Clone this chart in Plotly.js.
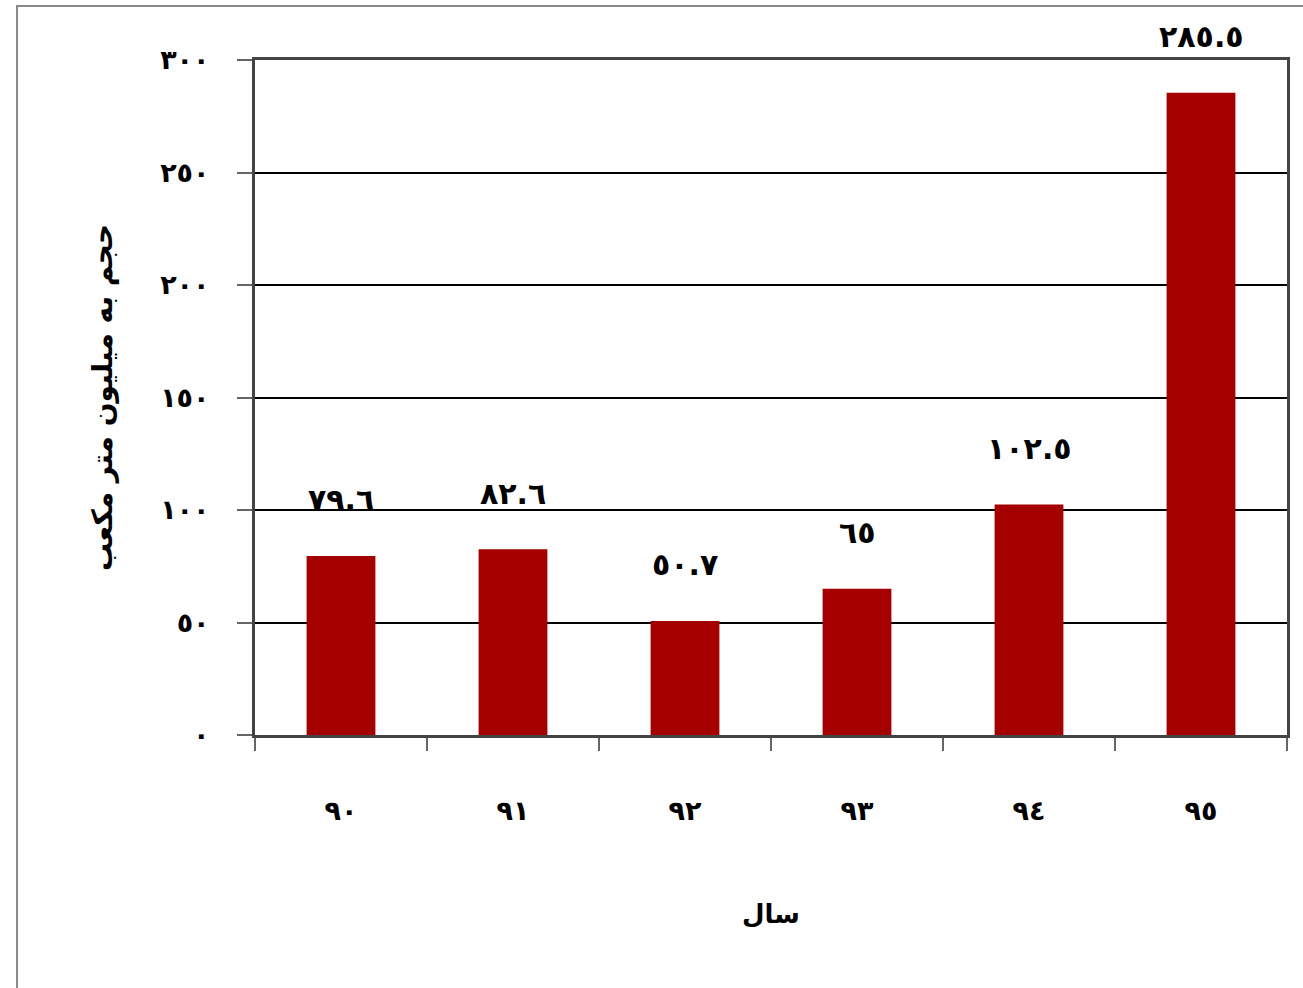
<!DOCTYPE html>
<html>
<head>
<meta charset="utf-8">
<script src="https://cdn.plot.ly/plotly-3.0.1.min.js"></script>
<style>html,body{margin:0;padding:0;background:#fff;}#chart{width:1303px;height:988px;}</style>
</head>
<body>
<div id="chart"></div>
<script>
const categories = ["٩٠", "٩١", "٩٢", "٩٣", "٩٤", "٩٥"];
const values = [79.6, 82.6, 50.7, 65, 102.5, 285.5];
const valueLabels = ["٧٩.٦", "٨٢.٦", "٥٠.٧", "٦٥", "١٠٢.٥", "٢٨٥.٥"];
const yTickVals = [0, 50, 100, 150, 200, 250, 300];
const yTickText = ["٠", "٥٠", "١٠٠", "١٥٠", "٢٠٠", "٢٥٠", "٣٠٠"];
const xTitle = "سال";
const yTitle = "حجم به میلیون متر مکعب";

const fontFam = "DejaVu Sans, Noto Sans, sans-serif";

const trace = {
  type: "bar",
  x: categories,
  y: values,
  marker: {color: "#a50000", line: {width: 0}},
  hoverinfo: "x+y"
};

const annotations = categories.map((c, i) => ({
  x: c, y: values[i], xref: "x", yref: "y",
  text: valueLabels[i], showarrow: false,
  yanchor: "middle", yshift: 56,
  font: {family: fontFam, size: 30, color: "#000", weight: "bold"}
}));

const layout = {
  width: 1303, height: 988,
  margin: {l: 255, r: 16, t: 60, b: 253},
  paper_bgcolor: "#fff", plot_bgcolor: "#fff",
  showlegend: false,
  bargap: 0.6,
  xaxis: {
    type: "category",
    tickson: "boundaries",
    ticks: "outside", ticklen: 13, tickwidth: 2, tickcolor: "#666",
    showline: true, linecolor: "#444", linewidth: 3, mirror: true,
    showgrid: false,
    ticklabelstandoff: 50,
    tickfont: {family: fontFam, size: 27, color: "#000", weight: "bold"},
    title: {text: xTitle, standoff: 80, font: {family: fontFam, size: 26, color: "#000", weight: "bold"}}
  },
  yaxis: {
    range: [0, 300],
    tickvals: yTickVals, ticktext: yTickText,
    ticks: "outside", ticklen: 15, tickwidth: 2, tickcolor: "#666",
    showline: true, linecolor: "#444", linewidth: 3, mirror: true,
    showgrid: true, gridcolor: "#000", gridwidth: 2,
    zeroline: false,
    ticklabelstandoff: 22,
    tickfont: {family: fontFam, size: 27, color: "#000", weight: "bold"},
    title: {text: yTitle, standoff: 40, font: {family: fontFam, size: 28, color: "#000", weight: "bold"}}
  },
  annotations: annotations,
  shapes: [{
    type: "rect", xref: "paper", yref: "paper",
    x0: -0.2306, x1: 1.05, y0: -0.4, y1: 1.08,
    line: {color: "#888", width: 2}, fillcolor: "rgba(0,0,0,0)", layer: "below"
  }]
};

Plotly.newPlot("chart", [trace], layout, {displayModeBar: false, staticPlot: true});
</script>
</body>
</html>
